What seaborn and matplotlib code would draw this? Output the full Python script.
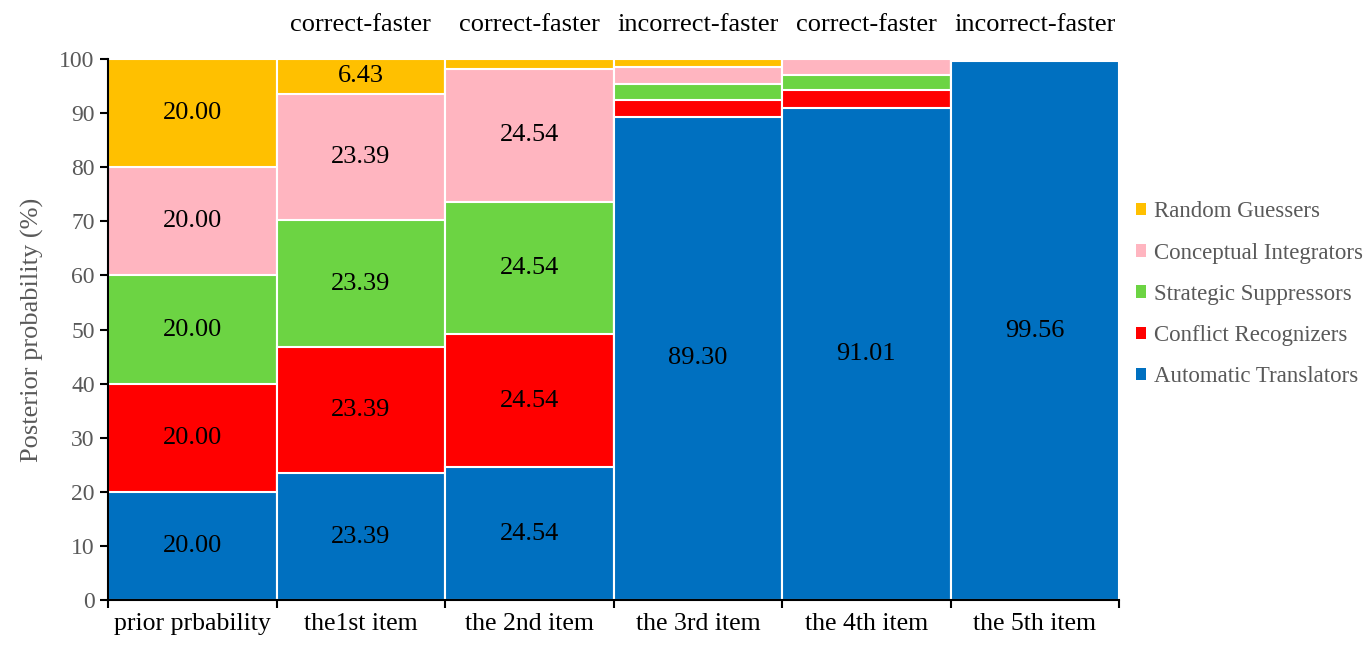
import numpy as np
import pandas as pd
import seaborn as sns
import matplotlib.pyplot as plt
from matplotlib.patches import Patch

items = ["prior prbability", "the1st item", "the 2nd item", "the 3rd item", "the 4th item", "the 5th item"]
response_type = ["", "correct-faster", "correct-faster", "incorrect-faster", "correct-faster", "incorrect-faster"]

# stacked from bottom to top
classes = ["Automatic Translators", "Conflict Recognizers", "Strategic Suppressors",
           "Conceptual Integrators", "Random Guessers"]
automatic = [20.00, 23.39, 24.54, 89.30, 91.01, 99.56]
conflict = [20.00, 23.39, 24.54, 3.12, 3.20, 0.0]
strategic = [20.00, 23.39, 24.54, 2.98, 2.90, 0.0]
conceptual = [20.00, 23.39, 24.54, 3.07, 2.89, 0.0]
random_g = [20.00, 6.43, 1.84, 1.53, 0.0, 0.0]
# which segments get a printed value
shown = {
    "Automatic Translators": [True] * 6,
    "Conflict Recognizers": [True, True, True, False, False, False],
    "Strategic Suppressors": [True, True, True, False, False, False],
    "Conceptual Integrators": [True, True, True, False, False, False],
    "Random Guessers": [True, True, False, False, False, False],
}
colors = {
    "Automatic Translators": "#0070C0",
    "Conflict Recognizers": "#FF0000",
    "Strategic Suppressors": "#6CD443",
    "Conceptual Integrators": "#FFB5C0",
    "Random Guessers": "#FFC000",
}

df = pd.DataFrame({"item": items})
series = [automatic, conflict, strategic, conceptual, random_g]
cum = np.cumsum(np.array(series), axis=0)
for name, c in zip(classes, cum):
    df[name] = c

sns.set_theme(style="white")
plt.rcParams["font.family"] = ["Liberation Serif", "DejaVu Serif"]

fig = plt.figure(figsize=(13.72, 6.48), dpi=100)
ax = fig.add_axes([0.0787, 0.074, 0.737, 0.835])

# draw cumulative totals from the top down so each lower one covers the rest
for name in reversed(classes):
    sns.barplot(data=df, x="item", y=name, color=colors[name], width=1.0,
                saturation=1, edgecolor="white", linewidth=1.5, ax=ax)

for i in range(len(items)):
    bottom = 0
    for name, vals in zip(classes, series):
        v = vals[i]
        if shown[name][i]:
            ax.text(i, bottom + v / 2, f"{v:.2f}", ha="center", va="center",
                    fontsize=19, color="black")
        bottom += v
    if response_type[i]:
        ax.text(i, 106.3, response_type[i], ha="center", va="center",
                fontsize=19, color="black", clip_on=False)

ax.set_xlim(-0.5, 5.5)
ax.set_ylim(0, 100)
ax.set_yticks(range(0, 101, 10))
ax.set_xticks(range(len(items)))
ax.set_xticklabels(items)
ax.set_xticks(np.arange(-0.5, 6, 1), minor=True)
ax.tick_params(axis="x", which="major", length=0, pad=9, labelsize=18.5, labelcolor="black")
ax.tick_params(axis="x", which="minor", length=6, width=1.5, color="black", direction="out", bottom=True)
ax.tick_params(axis="y", length=6, width=1.5, color="black", direction="out", left=True,
               labelsize=17, labelcolor="#595959")
ax.set_xlabel("")
ax.set_ylabel("Posterior probability (%)", fontsize=19, color="#595959", labelpad=11)
sns.despine(ax=ax)
for s in ["left", "bottom"]:
    ax.spines[s].set_color("black")
    ax.spines[s].set_linewidth(1.5)

handles = [Patch(facecolor=colors[n], edgecolor="none", label=n) for n in reversed(classes)]
leg = fig.legend(handles=handles, loc="center left", bbox_to_anchor=(0.828, 0.546),
                 frameon=False, fontsize=16.5, handlelength=0.45, handleheight=0.45,
                 handletextpad=0.35, labelspacing=0.88, borderpad=0, borderaxespad=0)
for t in leg.get_texts():
    t.set_color("#595959")

fig.savefig("out.png", dpi=100)
